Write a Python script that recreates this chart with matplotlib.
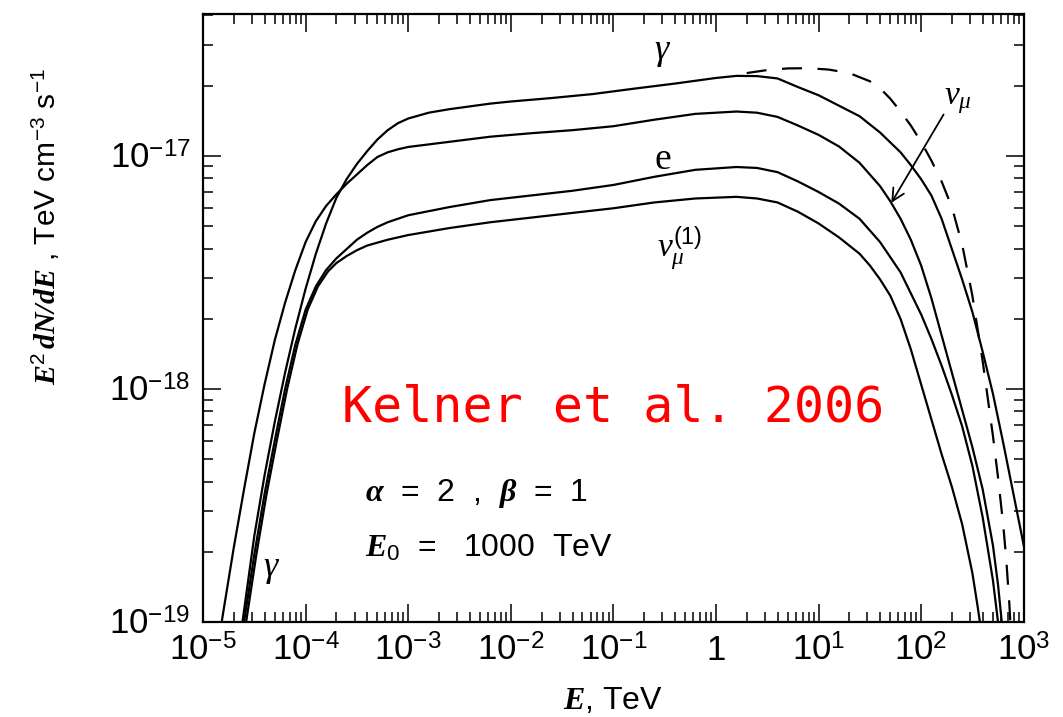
import numpy as np
import matplotlib
matplotlib.use("Agg")
import matplotlib.pyplot as plt
from matplotlib.ticker import LogLocator, NullFormatter

# fonts: sans for numbers, serif italic for symbols
plt.rcParams['font.family'] = ['Liberation Sans', 'DejaVu Sans']
plt.rcParams['mathtext.fontset'] = 'custom'
plt.rcParams['mathtext.rm'] = 'Liberation Sans'
plt.rcParams['mathtext.sf'] = 'Liberation Sans'
plt.rcParams['mathtext.it'] = 'Liberation Serif:italic'
plt.rcParams['mathtext.bf'] = 'Liberation Serif:italic:bold'

# spectra, as log10(E / TeV) and log10(E^2 dN/dE / TeV cm^-3 s^-1)
lgE_gamma = [-4.64, -4.6, -4.5, -4.4, -4.3, -4.2, -4.1, -4.0, -3.9, -3.8, -3.7, -3.6, -3.5,
             -3.4, -3.3, -3.2, -3.1, -3.0, -2.8, -2.6, -2.4, -2.2, -2.0, -1.6, -1.2, -0.8,
             -0.4, 0.0, 0.2, 0.4, 0.6, 0.8, 1.0, 1.2, 1.4, 1.6, 1.8, 1.9, 2.0, 2.1, 2.2,
             2.3, 2.4, 2.5, 2.6, 2.7, 2.8, 2.9, 3.0]
lgF_gamma = [-19.08, -18.95, -18.63, -18.37, -18.14, -17.93, -17.74, -17.57, -17.42, -17.29,
             -17.18, -17.10, -17.035, -16.98, -16.93, -16.89, -16.86, -16.84, -16.815, -16.80,
             -16.788, -16.776, -16.767, -16.752, -16.735, -16.712, -16.69, -16.666, -16.657,
             -16.658, -16.668, -16.705, -16.74, -16.785, -16.83, -16.9, -16.985, -17.04, -17.10,
             -17.17, -17.27, -17.40, -17.53, -17.67, -17.84, -18.02, -18.23, -18.45, -18.67]

lgE_numu = [-4.85, -4.8, -4.7, -4.6, -4.5, -4.4, -4.3, -4.2, -4.1, -4.0, -3.9, -3.8, -3.7,
            -3.6, -3.5, -3.4, -3.3, -3.2, -3.1, -3.0, -2.6, -2.2, -1.8, -1.4, -1.0, -0.6,
            -0.2, 0.2, 0.4, 0.6, 0.8, 1.0, 1.2, 1.4, 1.6, 1.7, 1.8, 1.9, 2.0, 2.1, 2.2, 2.3,
            2.4, 2.5, 2.6, 2.7, 2.75, 2.8]
lgF_numu = [-19.09, -18.95, -18.68, -18.43, -18.19, -17.98, -17.79, -17.63, -17.49, -17.37,
            -17.28, -17.215, -17.165, -17.12, -17.08, -17.04, -17.005, -16.985, -16.972, -16.962,
            -16.94, -16.918, -16.903, -16.89, -16.873, -16.845, -16.82, -16.81, -16.815, -16.833,
            -16.87, -16.91, -16.96, -17.03, -17.13, -17.195, -17.27, -17.36, -17.47, -17.61,
            -17.77, -17.93, -18.09, -18.25, -18.43, -18.67, -18.84, -19.06]

lgE_e = [-4.62, -4.6, -4.5, -4.4, -4.3, -4.2, -4.1, -4.0, -3.9, -3.8, -3.7, -3.6, -3.5, -3.4,
         -3.3, -3.2, -3.0, -2.6, -2.2, -1.8, -1.4, -1.0, -0.6, -0.2, 0.2, 0.4, 0.6, 0.8, 1.0,
         1.2, 1.4, 1.6, 1.8, 2.0, 2.1, 2.2, 2.3, 2.4, 2.5, 2.6, 2.7, 2.75, 2.78]
lgF_e = [-19.08, -19.0, -18.71, -18.45, -18.22, -18.0, -17.81, -17.66, -17.56, -17.49, -17.44,
         -17.40, -17.36, -17.33, -17.305, -17.285, -17.255, -17.22, -17.19, -17.17, -17.15,
         -17.125, -17.09, -17.06, -17.048, -17.052, -17.07, -17.11, -17.155, -17.205, -17.27,
         -17.37, -17.50, -17.68, -17.785, -17.90, -18.025, -18.16, -18.33, -18.55, -18.82,
         -19.0, -19.09]

lgE_numu1 = [-4.60, -4.58, -4.48, -4.38, -4.28, -4.18, -4.08, -3.98, -3.88, -3.78, -3.7, -3.6,
             -3.5, -3.4, -3.2, -3.0, -2.6, -2.2, -1.8, -1.4, -1.0, -0.6, -0.2, 0.2, 0.4, 0.6,
             0.8, 1.0, 1.2, 1.4, 1.5, 1.6, 1.7, 1.8, 1.9, 2.0, 2.1, 2.2, 2.3, 2.4, 2.5, 2.55, 2.6]
lgF_numu1 = [-19.08, -19.0, -18.71, -18.45, -18.22, -18.0, -17.81, -17.66, -17.56, -17.495,
             -17.46, -17.43, -17.405, -17.385, -17.36, -17.34, -17.31, -17.285, -17.265, -17.245,
             -17.225, -17.2, -17.183, -17.176, -17.183, -17.2, -17.24, -17.29, -17.35, -17.42,
             -17.47, -17.53, -17.60, -17.70, -17.83, -17.98, -18.13, -18.28, -18.42, -18.58,
             -18.79, -18.93, -19.08]

lgE_dash = [0.3, 0.5, 0.7, 0.9, 1.1, 1.3, 1.5, 1.6, 1.7, 1.8, 1.9, 2.0, 2.1, 2.2, 2.3, 2.4, 2.5,
            2.6, 2.7, 2.75, 2.8, 2.83, 2.86, 2.88]
lgF_dash = [-16.645, -16.632, -16.625, -16.624, -16.63, -16.645, -16.68, -16.71, -16.755, -16.81,
            -16.87, -16.94, -17.02, -17.11, -17.22, -17.38, -17.60, -17.88, -18.20, -18.38, -18.58,
            -18.73, -18.92, -19.08]

xticks = [1e-5, 1e-4, 1e-3, 1e-2, 1e-1, 1, 1e1, 1e2, 1e3]
xticklabels = [r'$10^{-5}$', r'$10^{-4}$', r'$10^{-3}$', r'$10^{-2}$', r'$10^{-1}$', '1',
               r'$10^{1}$', r'$10^{2}$', r'$10^{3}$']
yticks = [1e-19, 1e-18, 1e-17]
yticklabels = [r'$10^{-19}$', r'$10^{-18}$', r'$10^{-17}$']

fig = plt.figure(figsize=(10.63, 7.17), dpi=100)
ax = fig.add_axes([0.191, 0.1325, 0.772, 0.848])

lw = 1.6
for lgE, lgF in [(lgE_gamma, lgF_gamma), (lgE_numu, lgF_numu), (lgE_e, lgF_e),
                 (lgE_numu1, lgF_numu1)]:
    ax.plot(10.0 ** np.array(lgE), 10.0 ** np.array(lgF), color='black', lw=lw)
ax.plot(10.0 ** np.array(lgE_dash), 10.0 ** np.array(lgF_dash), color='black', lw=lw,
        linestyle=(0, (9, 7)))

ax.set_xscale('log')
ax.set_yscale('log')
ax.set_xlim(1e-5, 1e3)
ax.set_ylim(1e-19, 4.06e-17)

ax.set_xticks(xticks)
ax.set_xticklabels(xticklabels)
ax.set_yticks(yticks)
ax.set_yticklabels(yticklabels)
ax.xaxis.set_minor_locator(LogLocator(base=10, subs=np.arange(2, 10), numticks=20))
ax.yaxis.set_minor_locator(LogLocator(base=10, subs=np.arange(2, 10), numticks=20))
ax.xaxis.set_minor_formatter(NullFormatter())
ax.yaxis.set_minor_formatter(NullFormatter())
ax.tick_params(which='both', direction='in', top=True, right=True, width=1.1)
ax.tick_params(which='major', length=13, labelsize=25, pad=9)
ax.tick_params(which='minor', length=7)
for s in ax.spines.values():
    s.set_linewidth(1.6)

ax.set_xlabel(r'$\mathbf{E}$, TeV', fontsize=23)
ax.xaxis.set_label_coords(0.4994, -0.105)
ax.set_ylabel(r'$\mathbf{E}^{2}\,\mathbf{dN/dE}$ , TeV cm$^{-3}$ s$^{-1}$', fontsize=21.5)
ax.yaxis.set_label_coords(-0.172, 0.65)

# curve labels
ax.text(0.304, 2.79e-17, r'$\gamma$', fontsize=26, ha='center', va='center')
ax.text(0.304, 9.6e-18, 'e', fontsize=27, ha='center', va='center', family='Liberation Serif')
ax.text(0.446, 4.0e-18, r'$\nu_{\mu}^{(1)}$', fontsize=24, ha='center', va='center')
ax.text(228, 1.73e-17, r'$\nu_{\mu}$', fontsize=24, ha='center', va='center')
ax.text(4.7e-5, 1.7e-19, r'$\gamma$', fontsize=26, ha='center', va='center')
ax.annotate('', xy=(49.7, 6.14e-18), xytext=(171, 1.54e-17),
            arrowprops=dict(arrowstyle='->', color='black', lw=1.3, mutation_scale=22))

ax.text(0.4994, 0.352, 'Kelner et al. 2006', transform=ax.transAxes, color='red',
        fontsize=36, family='DejaVu Sans Mono', ha='center', va='center')
ax.text(0.197, 0.212, r'$\mathbf{\alpha}$  =  2  ,  $\mathbf{\beta}$  =  1', transform=ax.transAxes,
        fontsize=23, ha='left', va='center')
ax.text(0.197, 0.122, r'$\mathbf{E}_{0}$  =   1000  TeV', transform=ax.transAxes,
        fontsize=23, ha='left', va='center')

fig.savefig('out.png', dpi=100)
